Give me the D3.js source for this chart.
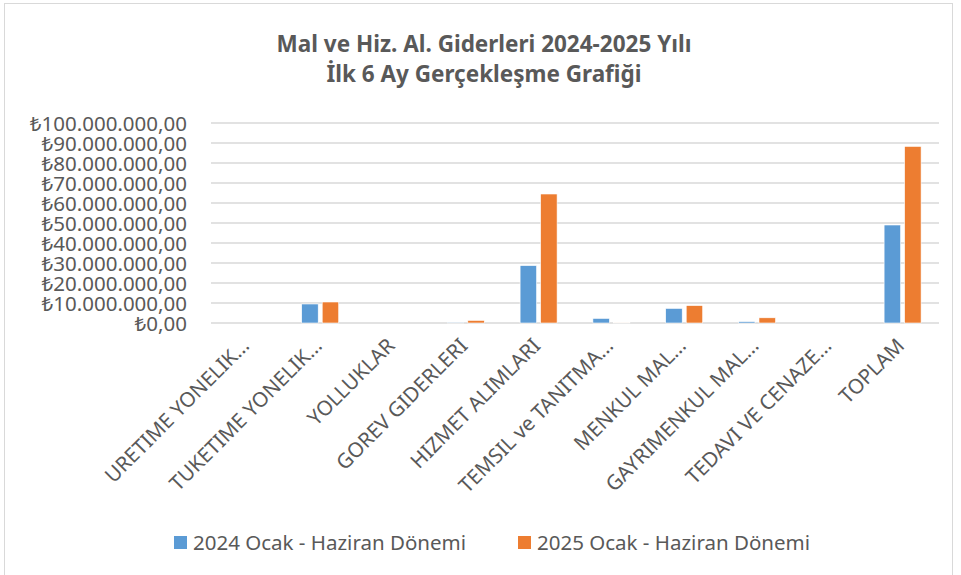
<!DOCTYPE html>
<html>
<head>
<meta charset="utf-8">
<script src="https://cdn.jsdelivr.net/npm/d3@7"></script>
<style>
    body { margin: 0; background: #fff; }
    svg text { font-family: 'Noto Sans', 'Open Sans', sans-serif; fill: #595959; }
</style>
</head>
<body>
<div class="chart"></div>
<script>
    'use strict';

    const categories = ['URETIME YONELIK…', 'TUKETIME YONELIK…', 'YOLLUKLAR', 'GOREV GIDERLERI',
        'HIZMET ALIMLARI', 'TEMSIL ve TANITMA…', 'MENKUL MAL…', 'GAYRIMENKUL MAL…',
        'TEDAVI VE CENAZE…', 'TOPLAM'];
    const values2024 = [0, 9500000, 0, 150000, 28700000, 2300000, 7300000, 700000, 0, 49000000];
    const values2025 = [0, 10500000, 0, 1300000, 64500000, 200000, 8700000, 2600000, 0, 88300000];
    const seriesNames = ['2024 Ocak - Haziran Dönemi', '2025 Ocak - Haziran Dönemi'];
    const yTicks = [0, 10000000, 20000000, 30000000, 40000000, 50000000, 60000000, 70000000, 80000000, 90000000, 100000000];
    const titleLines = ['Mal ve Hiz. Al. Giderleri 2024-2025 Yılı', 'İlk 6 Ay Gerçekleşme Grafiği'];

    const colors = ['#5B9BD5', '#ED7D31'];
    const W = 961, H = 575;
    const margin = { top: 123, left: 211, right: 22, bottom: 252 };
    const fontSize = '20.5px';

    const svg = d3.select('.chart').append('svg')
        .attr('width', W)
        .attr('height', H);

    // outer chart frame
    svg.append('rect')
        .attr('x', 4.5).attr('y', 3.5)
        .attr('width', 948).attr('height', 580)
        .attr('fill', 'none')
        .attr('stroke', '#D9D9D9')
        .attr('stroke-width', 1);

    svg.append('g').selectAll('text')
        .data(titleLines)
        .enter().append('text')
        .attr('x', 484)
        .attr('y', function (d, i) { return 52 + i * 30; })
        .attr('text-anchor', 'middle')
        .style('font-size', '22.5px')
        .style('font-weight', 'bold')
        .text(function (d) { return d; });

    const x = d3.scaleBand().domain(categories)
        .range([margin.left, W - margin.right]);
    const y = d3.scaleLinear().domain([0, 100000000])
        .range([H - margin.bottom, margin.top]);

    const fmt = function (v) {
        const s = d3.format(',.2f')(v);
        return '₺' + s.replace(/,/g, '#').replace('.', ',').replace(/#/g, '.');
    };

    // grid
    svg.append('g').selectAll('line')
        .data(yTicks)
        .enter().append('line')
        .attr('x1', margin.left).attr('x2', W - margin.right)
        .attr('y1', function (d) { return y(d); })
        .attr('y2', function (d) { return y(d); })
        .attr('stroke', '#D9D9D9')
        .attr('stroke-width', 1.5);

    const yAxis = svg.append('g')
        .attr('transform', 'translate(' + (margin.left - 24) + ',0)')
        .call(d3.axisLeft(y).tickValues(yTicks).tickFormat(fmt).tickSize(0).tickPadding(0));
    yAxis.select('.domain').remove();
    yAxis.selectAll('text')
        .style('font-size', fontSize)
        .attr('dy', '0.36em')
        .attr('fill', '#595959');

    const barW = 16.5, gap = 4;
    const series = [values2024, values2025];

    series.forEach(function (vals, si) {
        svg.append('g').selectAll('rect')
            .data(vals)
            .enter().append('rect')
            .attr('x', function (d, i) {
                const c = x(categories[i]) + x.bandwidth() / 2;
                return si === 0 ? c - gap / 2 - barW : c + gap / 2;
            })
            .attr('y', function (d) { return y(d); })
            .attr('width', barW)
            .attr('height', function (d) { return y(0) - y(d); })
            .attr('fill', colors[si])
            .attr('stroke', '#fff')
            .attr('stroke-width', 0.6);
    });

    // x labels, rotated
    svg.append('g').selectAll('text')
        .data(categories)
        .enter().append('text')
        .attr('transform', function (d) {
            const cx = x(d) + x.bandwidth() / 2 + 3;
            return 'translate(' + cx + ',' + 347 + ') rotate(-45)';
        })
        .attr('text-anchor', 'end')
        .style('font-size', fontSize)
        .text(function (d) { return d; });

    // legend
    const legendX = [174, 518];
    const legend = svg.append('g').selectAll('g')
        .data(seriesNames)
        .enter().append('g')
        .attr('transform', function (d, i) { return 'translate(' + legendX[i] + ',536)'; });
    legend.append('rect')
        .attr('width', 13).attr('height', 13)
        .attr('fill', function (d, i) { return colors[i]; });
    legend.append('text')
        .attr('x', 19).attr('y', 14)
        .style('font-size', fontSize)
        .text(function (d) { return d; });
</script>
</body>
</html>
